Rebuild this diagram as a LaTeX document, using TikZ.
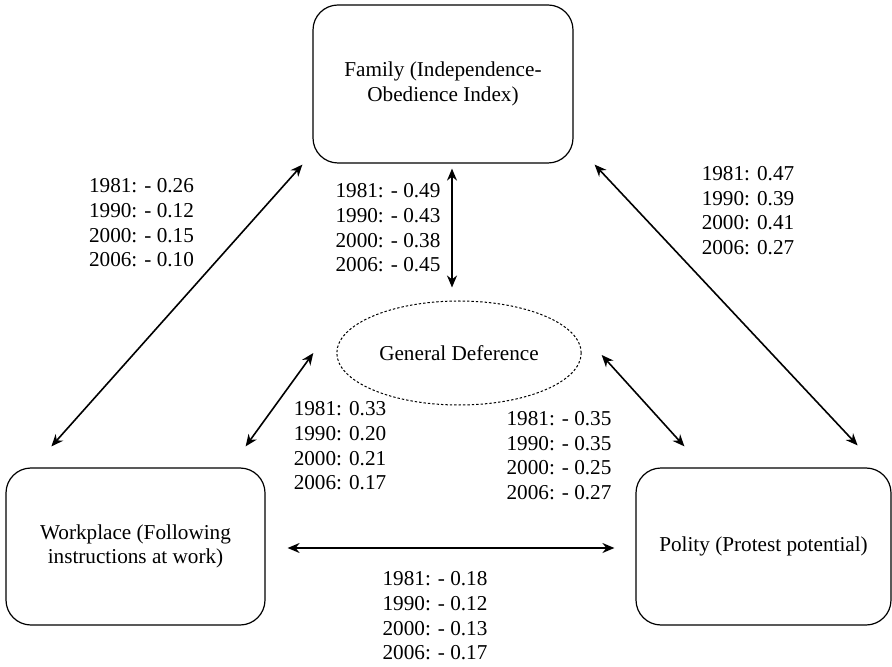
\documentclass[tikz,border=0pt]{standalone}
\usepackage{fontspec}
\setmainfont{Liberation Serif}
\usetikzlibrary{shapes.geometric,arrows.meta}
\begin{document}
\begin{tikzpicture}[x=0.5pt,y=-0.5pt,font=\fontsize{10.6}{12.35}\selectfont]
	\tikzstyle{spherebox}=[rectangle,rounded corners=12.5pt,draw,line width=0.6pt,minimum width=129.5pt,minimum height=78.5pt,align=center]
	\tikzstyle{latent}=[ellipse,draw,line width=0.5pt,dash pattern=on 1.2pt off 1pt,minimum width=114pt,minimum height=52pt]
	\tikzstyle{corr}=[{Stealth[length=6pt,width=5pt]}-{Stealth[length=6pt,width=5pt]},line width=0.8pt]
	\tikzstyle{coef}=[align=left,inner sep=0pt]
	\useasboundingbox (0,0) rectangle (892,667);
	
	\node[spherebox,minimum width=130pt,minimum height=79pt] (family) at (443,84) {Family (Independence-\\Obedience Index)};
	\node[spherebox] (work) at (135.5,546.5) {Workplace (Following\\instructions at work)};
	\node[spherebox,minimum width=127.5pt] (polity) at (763.5,546.5) {Polity (Protest potential)};
	\node[latent] (general) at (459,353) {General Deference};
	
	% correlations
	\draw[corr] ([xshift=-5pt,yshift=-0.5pt]family.south west) -- ([xshift=23pt,yshift=10.5pt]work.north west);
	\draw[corr] ([xshift=4.5pt,yshift=-2.5pt]family.south) -- ([xshift=-3.5pt,yshift=6.5pt]general.north);
	\draw[corr] ([xshift=10.5pt,yshift=-0.5pt]family.south east) -- ([xshift=-17pt,yshift=11pt]polity.north east);
	\draw[corr] ([xshift=-11.5pt]general.west) -- ([xshift=-10pt,yshift=10.5pt]work.north east);
	\draw[corr] ([xshift=10pt,yshift=-1pt]general.east) -- ([xshift=24.5pt,yshift=10.5pt]polity.north west);
	\draw[corr] ([xshift=11pt,yshift=-0.75pt]work.east) -- ([xshift=-10.5pt,yshift=-0.75pt]polity.west);
	
	\node[coef] (fw) at (141.5,223) {1981: - 0.26\\1990: - 0.12\\2000: - 0.15\\2006: - 0.10};
	\node[coef] (fg) at (388,228) {1981: - 0.49\\1990: - 0.43\\2000: - 0.38\\2006: - 0.45};
	\node[coef] (fp) at (748,210.5) {1981: 0.47\\1990: 0.39\\2000: 0.41\\2006: 0.27};
	\node[coef] (gw) at (340,446) {1981: 0.33\\1990: 0.20\\2000: 0.21\\2006: 0.17};
	\node[coef] (gp) at (559,455.5) {1981: - 0.35\\1990: - 0.35\\2000: - 0.25\\2006: - 0.27};
	\node[coef] (wp) at (435,616) {1981: - 0.18\\1990: - 0.12\\2000: - 0.13\\2006: - 0.17};
\end{tikzpicture}
\end{document}
